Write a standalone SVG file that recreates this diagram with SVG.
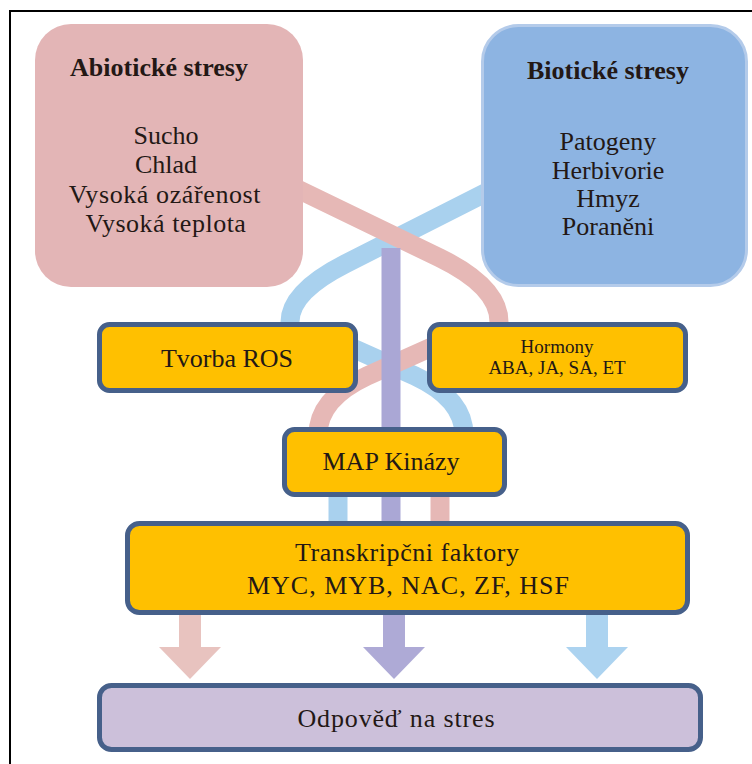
<svg xmlns="http://www.w3.org/2000/svg" width="752" height="764" viewBox="0 0 752 764">
  <style>
    .t { font-family: "Liberation Serif", "DejaVu Serif", "Times New Roman", Times, serif; fill: #231815; text-anchor: middle; }
    .big { font-size: 26px; }
    .bold { font-weight: bold; }
    .small { font-size: 19px; }
    .band { fill: none; stroke-width: 19; stroke-linecap: butt; stroke-linejoin: round; }
    .pink { stroke: #e6b8b6; }
    .blue { stroke: #a9d1ee; }
    .violet { stroke: #aaa7d5; }
    .step { fill: #ffc000; stroke: #46608a; stroke-width: 5; }
    .result { fill: #ccc0da; stroke: #46608a; stroke-width: 5; }
  </style>

  <rect width="752" height="764" fill="#ffffff"/>
  <!-- frame -->
  <path d="M10,764 V11 H752" fill="none" stroke="#000000" stroke-width="2"/>

  <!-- signalling bands and arrows -->
  <g id="connectors">
    <!-- upper crossing -->
    <path class="band blue" d="M495,188 L345,264 Q290,292 290,322 L290,345"/>
    <path class="band pink" d="M285,183 L440,258 Q499,287 499,322 L499,345"/>
    <!-- middle crossing -->
    <path class="band blue" d="M330,338 L415,376 Q464,399 464,435"/>
    <path class="band pink" d="M452,338 L367,376 Q318,399 318,435"/>
    <!-- below MAP kinases -->
    <path class="band blue" d="M338,490 L338,530"/>
    <path class="band pink" d="M440,490 L440,530"/>
    <!-- central line -->
    <path class="band violet" d="M391,248 L391,530"/>
    <!-- output arrows -->
    <path id="arrow-abiotic" fill="#e8c3bf" d="M179,612 H201 V647 H221 L190,679 L159,647 H179 Z"/>
    <path id="arrow-common" fill="#aeaad6" d="M383,612 H405 V647 H425 L394,679 L363,647 H383 Z"/>
    <path id="arrow-biotic" fill="#acd3f0" d="M586,612 H608 V647 H628 L597,679 L566,647 H586 Z"/>
  </g>

  <g id="abiotic">
    <rect x="35" y="24" width="268" height="263" rx="36" fill="#e3b5b6"/>
    <text class="t big bold" x="159" y="76">Abiotické stresy</text>
    <text class="t big" x="166" y="144">Sucho</text>
    <text class="t big" x="166" y="173">Chlad</text>
    <text class="t big" x="165" y="203" letter-spacing="0.6">Vysoká ozářenost</text>
    <text class="t big" x="166" y="232" letter-spacing="0.5">Vysoká teplota</text>
  </g>

  <g id="biotic">
    <rect x="482.5" y="25.5" width="264" height="260" rx="36" fill="#8db4e2" stroke="#b4cbea" stroke-width="3"/>
    <text class="t big bold" x="608" y="79">Biotické stresy</text>
    <text class="t big" x="608" y="150">Patogeny</text>
    <text class="t big" x="608" y="179">Herbivorie</text>
    <text class="t big" x="608" y="207">Hmyz</text>
    <text class="t big" x="608" y="235">Poraněni</text>
  </g>

  <g id="ros">
    <rect class="step" x="99.5" y="324.5" width="256" height="66" rx="10"/>
    <text class="t big" x="227" y="367" font-size="27">Tvorba ROS</text>
  </g>

  <g id="hormones">
    <rect class="step" x="429.5" y="324.5" width="256" height="66" rx="10"/>
    <text class="t small" x="557" y="353">Hormony</text>
    <text class="t small" x="557" y="374">ABA, JA, SA, ET</text>
  </g>

  <g id="map-kinases">
    <rect class="step" x="284.5" y="429.5" width="220" height="65" rx="10"/>
    <text class="t big" x="391" y="470" font-size="27">MAP Kinázy</text>
  </g>

  <g id="transcription-factors">
    <rect class="step" x="127.5" y="523.5" width="560" height="89" rx="12"/>
    <text class="t big" x="407" y="561" font-size="27" textLength="224" lengthAdjust="spacing">Transkripčni  faktory</text>
    <text class="t big" x="408" y="594" font-size="27" textLength="322" lengthAdjust="spacing">MYC, MYB, NAC, ZF, HSF</text>
  </g>

  <g id="stress-response">
    <rect class="result" x="99.5" y="685.5" width="601" height="64" rx="12"/>
    <text class="t big" x="396" y="727" font-size="27" textLength="197" lengthAdjust="spacing">Odpověď na stres</text>
  </g>
</svg>
